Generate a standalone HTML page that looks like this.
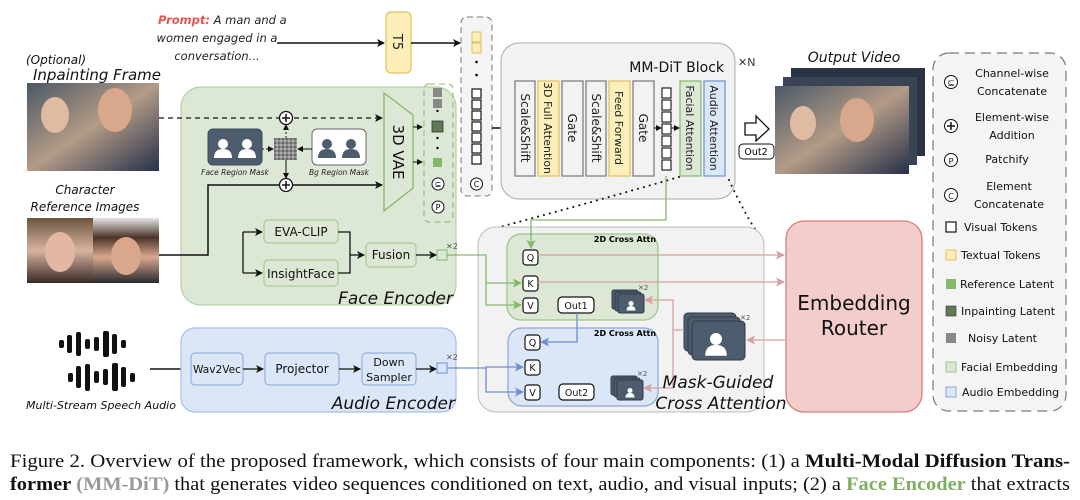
<!DOCTYPE html>
<html><head><meta charset="utf-8"><style>
html,body{margin:0;padding:0;background:#fff;width:1080px;height:500px;overflow:hidden}
svg{display:block}
.h{font-family:"DejaVu Sans","Liberation Sans",sans-serif}
.cap{font-family:"Liberation Serif",serif;font-size:18.5px;fill:#111}
</style></head><body>
<svg width="1080" height="500" viewBox="0 0 1080 500" xmlns="http://www.w3.org/2000/svg">
<defs>
<marker id="a" markerWidth="8" markerHeight="8" refX="7" refY="4" orient="auto" markerUnits="userSpaceOnUse"><path d="M0,0 L8,4 L0,8 L2,4z" fill="#111"/></marker>
<marker id="as" markerWidth="6" markerHeight="6" refX="5" refY="3" orient="auto" markerUnits="userSpaceOnUse"><path d="M0,0 L6,3 L0,6z" fill="#111"/></marker>
<marker id="ag" markerWidth="9" markerHeight="9" refX="8" refY="4.5" orient="auto" markerUnits="userSpaceOnUse"><path d="M0,0 L9,4.5 L0,9 L2,4.5z" fill="#86b86a"/></marker>
<marker id="ab" markerWidth="9" markerHeight="9" refX="8" refY="4.5" orient="auto" markerUnits="userSpaceOnUse"><path d="M0,0 L9,4.5 L0,9 L2,4.5z" fill="#6f8fcf"/></marker>
<marker id="ar" markerWidth="9" markerHeight="9" refX="8" refY="4.5" orient="auto" markerUnits="userSpaceOnUse"><path d="M0,0 L9,4.5 L0,9 L2,4.5z" fill="#d9a0a0"/></marker>
<linearGradient id="p1" x1="0" y1="0" x2="1" y2="1"><stop offset="0" stop-color="#4a5866"/><stop offset=".5" stop-color="#b39b86"/><stop offset="1" stop-color="#26304a"/></linearGradient>
<linearGradient id="p2" x1="0" y1="0" x2="0" y2="1"><stop offset="0" stop-color="#6b5540"/><stop offset=".5" stop-color="#d8b4a0"/><stop offset="1" stop-color="#3a2a24"/></linearGradient>
<linearGradient id="p3" x1="0" y1="0" x2="0" y2="1"><stop offset="0" stop-color="#e6e6e6"/><stop offset=".3" stop-color="#4a3328"/><stop offset=".6" stop-color="#d8a88e"/><stop offset="1" stop-color="#2a2a30"/></linearGradient>
<pattern id="nz" width="4" height="4" patternUnits="userSpaceOnUse"><rect width="4" height="4" fill="#8a8a8a"/><rect width="2" height="2" fill="#b0b0b0"/><rect x="2" y="2" width="2" height="2" fill="#6a6a6a"/></pattern>
<g id="person"><circle cx="0" cy="-5" r="5"/><path d="M-9,9 Q-9,0 0,0 Q9,0 9,9z"/></g>
</defs>

<!-- prompt -->
<text class="h" font-style="italic" font-size="11.5" x="158" y="24"><tspan fill="#e8554e" font-weight="bold">Prompt:</tspan><tspan fill="#222"> A man and a</tspan></text>
<text class="h" font-style="italic" font-size="11.5" x="217" y="42" text-anchor="middle" fill="#222">women engaged in a</text>
<text class="h" font-style="italic" font-size="11.5" x="217" y="60" text-anchor="middle" fill="#222">conversation...</text>
<line x1="277" y1="43" x2="384" y2="43" stroke="#111" stroke-width="1.5" marker-end="url(#a)"/>
<rect x="386" y="12" width="25" height="61" rx="5" fill="#fbeeb8" stroke="#e2c060" stroke-width="1.2"/>
<text class="h" font-size="13" transform="translate(393,42) rotate(90)" text-anchor="middle" fill="#222">T5</text>
<line x1="411" y1="43" x2="460" y2="43" stroke="#111" stroke-width="1.5" marker-end="url(#a)"/>

<!-- token column -->
<rect x="461" y="17" width="31" height="179" rx="6" fill="#f4f4f4" stroke="#777" stroke-dasharray="6,4"/>
<rect x="472" y="32" width="9" height="10" fill="#fbeeb8" stroke="#e2c060"/>
<rect x="472" y="43" width="9" height="10" fill="#fbeeb8" stroke="#e2c060"/>
<circle cx="476.5" cy="62" r="1.3"/><circle cx="476.5" cy="75" r="1.3"/>
<g fill="#fff" stroke="#111" stroke-width="1.2"><rect x="472" y="89" width="9" height="9"/><rect x="472" y="100" width="9" height="9"/><rect x="472" y="111" width="9" height="9"/><rect x="472" y="122" width="9" height="9"/><rect x="472" y="133" width="9" height="9"/><rect x="472" y="144" width="9" height="9"/><rect x="472" y="155" width="9" height="9"/></g>
<circle cx="476.5" cy="184" r="6" fill="#fff" stroke="#111"/><text class="h" font-size="8" x="476.5" y="187" text-anchor="middle">C</text>
<line x1="492" y1="128" x2="514" y2="128" stroke="#111" stroke-width="1.5" marker-end="url(#a)"/>

<!-- left inputs -->
<text class="h" font-style="italic" font-size="12" x="26" y="64" fill="#111">(Optional)</text>
<text class="h" font-style="italic" font-size="15" x="33" y="80" fill="#111">Inpainting Frame</text>
<rect x="27" y="83" width="132" height="88" fill="url(#p1)"/>
<ellipse cx="55" cy="115" rx="14" ry="18" fill="#e0bba4"/><ellipse cx="115" cy="110" rx="17" ry="22" fill="#d9a78c"/>
<text class="h" font-style="italic" font-size="12" x="85" y="194" text-anchor="middle" fill="#111">Character</text>
<text class="h" font-style="italic" font-size="12" x="85" y="211" text-anchor="middle" fill="#111">Reference Images</text>
<rect x="27" y="218" width="66" height="65" fill="url(#p2)"/>
<rect x="93" y="218" width="66" height="65" fill="url(#p3)"/>
<ellipse cx="60" cy="252" rx="15" ry="20" fill="#e2b8a4"/><ellipse cx="126" cy="256" rx="15" ry="19" fill="#d9a78c"/>

<!-- face encoder -->
<rect x="181" y="87" width="275" height="218" rx="20" fill="#dce8d5" stroke="#b3d0a2" stroke-width="1.2"/>
<text class="h" font-style="italic" font-size="17" x="453" y="304" text-anchor="end" fill="#111">Face Encoder</text>
<line x1="159" y1="118" x2="382" y2="118" stroke="#111" stroke-width="1.3" stroke-dasharray="5,4" marker-end="url(#a)"/>
<circle cx="286" cy="118" r="6.5" fill="#fff" stroke="#111" stroke-width="1.3"/><path d="M282,118h8M286,114v8" stroke="#111" stroke-width="1.5"/>
<rect x="208" y="129" width="54" height="36" rx="5" fill="#4d5d6e" stroke="#3d4b5a"/>
<g fill="#fff"><use href="#person" x="223" y="149"/><use href="#person" x="247" y="149"/></g>
<rect x="274" y="138" width="23" height="22" fill="url(#nz)"/>
<rect x="312" y="129" width="54" height="36" rx="5" fill="#fff" stroke="#666"/>
<g fill="#4d5d6e"><use href="#person" x="327" y="149"/><use href="#person" x="351" y="149"/></g>
<line x1="262" y1="149" x2="273" y2="149" stroke="#111" stroke-dasharray="2,2" marker-end="url(#as)"/>
<line x1="312" y1="149" x2="298" y2="149" stroke="#111" marker-end="url(#as)"/>
<line x1="286" y1="138" x2="286" y2="125" stroke="#111" stroke-dasharray="2,2" marker-end="url(#as)"/>
<line x1="286" y1="160" x2="286" y2="178" stroke="#111" marker-end="url(#as)"/>
<text class="h" font-style="italic" font-size="7.5" x="235" y="175" text-anchor="middle" fill="#222">Face Region Mask</text>
<text class="h" font-style="italic" font-size="7.5" x="339" y="175" text-anchor="middle" fill="#222">Bg Region Mask</text>
<polyline points="159,255 208,255 208,185 382,185" fill="none" stroke="#111" stroke-width="1.5" marker-end="url(#a)"/>
<circle cx="286" cy="185" r="6.5" fill="#fff" stroke="#111" stroke-width="1.3"/><path d="M282,185h8M286,181v8" stroke="#111" stroke-width="1.5"/>
<polygon points="384,93 413,115 413,188 384,211" fill="#dce8d5" stroke="#86b86a" stroke-width="1.3"/>
<text class="h" font-size="15" transform="translate(393,152) rotate(90)" text-anchor="middle" fill="#111">3D VAE</text>
<line x1="413" y1="127" x2="422" y2="127" stroke="#111" marker-end="url(#as)"/>
<line x1="413" y1="162" x2="422" y2="162" stroke="#111" marker-end="url(#as)"/>
<rect x="424" y="84" width="29" height="138" rx="5" fill="none" stroke="#86b86a" stroke-dasharray="6,4"/>
<rect x="433" y="88" width="9" height="9" fill="#888"/><rect x="433" y="99" width="9" height="9" fill="#888"/>
<circle cx="437.5" cy="111" r="1.2"/><rect x="432" y="121" width="11" height="11" fill="#5f7a55" stroke="#333" stroke-width=".8"/>
<circle cx="437.5" cy="138" r="1.2"/><circle cx="437.5" cy="148" r="1.2"/>
<rect x="433" y="158" width="9" height="9" fill="#86b86a"/>
<circle cx="438" cy="184" r="6" fill="#fff" stroke="#111"/><text class="h" font-size="8" x="438" y="187" text-anchor="middle">⊆</text>
<circle cx="438" cy="207" r="6" fill="#fff" stroke="#111"/><text class="h" font-size="8" x="438" y="210" text-anchor="middle">P</text>
<polyline points="243,232 243,273" fill="none" stroke="#111" stroke-width="1.3"/>
<line x1="243" y1="232" x2="262" y2="232" stroke="#111" stroke-width="1.3" marker-end="url(#a)"/>
<line x1="243" y1="273" x2="262" y2="273" stroke="#111" stroke-width="1.3" marker-end="url(#a)"/>
<rect x="264" y="220" width="74" height="23" rx="4" fill="#dce8d5" stroke="#9cc485"/>
<text class="h" font-size="12" x="301" y="236" text-anchor="middle" fill="#111">EVA-CLIP</text>
<rect x="264" y="260" width="74" height="26" rx="4" fill="#dce8d5" stroke="#9cc485"/>
<text class="h" font-size="12" x="301" y="278" text-anchor="middle" fill="#111">InsightFace</text>
<polyline points="338,232 350,232 350,273 338,273" fill="none" stroke="#111" stroke-width="1.3"/>
<line x1="350" y1="255" x2="364" y2="255" stroke="#111" stroke-width="1.3" marker-end="url(#a)"/>
<rect x="366" y="243" width="50" height="24" rx="4" fill="#dce8d5" stroke="#9cc485"/>
<text class="h" font-size="12" x="391" y="259" text-anchor="middle" fill="#111">Fusion</text>
<line x1="416" y1="255" x2="436" y2="255" stroke="#111" stroke-width="1.3" marker-end="url(#a)"/>
<rect x="437" y="250" width="10" height="10" fill="#dce8d5" stroke="#86b86a"/>
<text class="h" font-size="8" x="446" y="249" fill="#555">✕2</text>

<!-- audio -->
<g fill="#111">
<rect x="59" y="340" width="5" height="8" rx="2"/><rect x="67" y="335" width="5" height="18" rx="2"/><rect x="76" y="332" width="5" height="24" rx="2"/><rect x="85" y="339" width="5" height="10" rx="2"/><rect x="94" y="337" width="5" height="14" rx="2"/><rect x="103" y="331" width="6" height="26" rx="2"/><rect x="112" y="334" width="5" height="20" rx="2"/><rect x="121" y="340" width="5" height="8" rx="2"/>
<rect x="68" y="373" width="5" height="9" rx="2"/><rect x="76" y="366" width="5" height="22" rx="2"/><rect x="85" y="364" width="5" height="27" rx="2"/><rect x="94" y="371" width="5" height="12" rx="2"/><rect x="103" y="369" width="5" height="16" rx="2"/><rect x="112" y="363" width="6" height="28" rx="2"/><rect x="121" y="367" width="5" height="20" rx="2"/><rect x="130" y="373" width="5" height="9" rx="2"/>
</g>
<text class="h" font-style="italic" font-size="11" x="26" y="409" fill="#111" textLength="150" lengthAdjust="spacingAndGlyphs">Multi-Stream Speech Audio</text>
<line x1="150" y1="369" x2="190" y2="369" stroke="#111" stroke-width="1.5" marker-end="url(#a)"/>
<rect x="181" y="328" width="275" height="84" rx="14" fill="#dbe6f7" stroke="#a8bfe6" stroke-width="1.2"/>
<text class="h" font-style="italic" font-size="17" x="455" y="409" text-anchor="end" fill="#111">Audio Encoder</text>
<rect x="191" y="353" width="52" height="32" rx="4" fill="#dbe6f7" stroke="#8aa6d8"/>
<text class="h" font-size="11" x="217" y="373" text-anchor="middle" fill="#111" textLength="48" lengthAdjust="spacingAndGlyphs">Wav2Vec</text>
<line x1="243" y1="369" x2="263" y2="369" stroke="#111" stroke-width="1.3" marker-end="url(#a)"/>
<rect x="265" y="353" width="74" height="32" rx="4" fill="#dbe6f7" stroke="#8aa6d8"/>
<text class="h" font-size="12" x="302" y="373" text-anchor="middle" fill="#111">Projector</text>
<line x1="339" y1="369" x2="360" y2="369" stroke="#111" stroke-width="1.3" marker-end="url(#a)"/>
<rect x="362" y="353" width="54" height="32" rx="4" fill="#dbe6f7" stroke="#8aa6d8"/>
<text class="h" font-size="11" x="389" y="366" text-anchor="middle" fill="#111">Down</text>
<text class="h" font-size="11" x="389" y="381" text-anchor="middle" fill="#111">Sampler</text>
<line x1="416" y1="369" x2="436" y2="369" stroke="#111" stroke-width="1.3" marker-end="url(#a)"/>
<rect x="437" y="363" width="10" height="10" fill="#dbe6f7" stroke="#6f8fcf"/>
<text class="h" font-size="8" x="446" y="360" fill="#555">✕2</text>

<!-- MM-DiT block -->
<rect x="501" y="43" width="234" height="156" rx="18" fill="#f2f2f2" stroke="#aaa"/>
<text class="h" font-size="14" x="724" y="72" text-anchor="end" fill="#111">MM-DiT Block</text>
<text class="h" font-size="11" x="738" y="66" fill="#333">✕N</text>
<g stroke-width="1.2">
<rect x="515" y="81" width="20" height="95" fill="#f2f2f2" stroke="#777"/>
<rect x="538" y="81" width="21" height="95" fill="#fbeeb8" stroke="#e2c060"/>
<rect x="562" y="81" width="21" height="95" fill="#f2f2f2" stroke="#777"/>
<rect x="586" y="81" width="20" height="95" fill="#f2f2f2" stroke="#777"/>
<rect x="609" y="81" width="21" height="95" fill="#fbeeb8" stroke="#e2c060"/>
<rect x="633" y="81" width="21" height="95" fill="#f2f2f2" stroke="#777"/>
<rect x="680" y="81" width="21" height="95" fill="#dce8d5" stroke="#86b86a"/>
<rect x="704" y="81" width="21" height="95" fill="#dbe6f7" stroke="#6f8fcf"/>
</g>
<g class="h" font-size="12" fill="#222" text-anchor="middle">
<text transform="translate(521,128) rotate(90)">Scale&amp;Shift</text>
<text transform="translate(544,128) rotate(90)" font-size="11">3D Full Attention</text>
<text transform="translate(568,128) rotate(90)">Gate</text>
<text transform="translate(592,128) rotate(90)">Scale&amp;Shift</text>
<text transform="translate(615,128) rotate(90)" font-size="11">Feed Forward</text>
<text transform="translate(639,128) rotate(90)">Gate</text>
<text transform="translate(686,128) rotate(90)" font-size="11">Facial Attention</text>
<text transform="translate(710,128) rotate(90)" font-size="11">Audio Attention</text>
</g>
<line x1="654" y1="128" x2="661" y2="128" stroke="#111" marker-end="url(#as)"/>
<g fill="#fff" stroke="#111" stroke-width="1.1"><rect x="662" y="88" width="9" height="10"/><rect x="662" y="100" width="9" height="10"/><rect x="662" y="112" width="9" height="10"/><rect x="662" y="124" width="9" height="10"/><rect x="662" y="136" width="9" height="10"/><rect x="662" y="148" width="9" height="10"/><rect x="662" y="160" width="9" height="10"/></g>
<line x1="671" y1="128" x2="679" y2="128" stroke="#111" marker-end="url(#as)"/>

<!-- output -->
<path d="M745,123 H756 V116 L769,129 L756,141 V135 H745z" fill="#fff" stroke="#111" stroke-width="1.3"/>
<rect x="739" y="144" width="35" height="15" rx="4" fill="#fff" stroke="#111"/>
<text class="h" font-size="9.5" x="756" y="155" text-anchor="middle">Out2</text>
<text class="h" font-style="italic" font-size="14" x="854" y="62" text-anchor="middle" fill="#111">Output Video</text>
<rect x="791" y="68" width="134" height="88" fill="#2a3444"/>
<rect x="783" y="77" width="134" height="88" fill="#3a4454"/>
<rect x="775" y="86" width="134" height="88" fill="url(#p1)"/>
<ellipse cx="803" cy="123" rx="13" ry="17" fill="#e0bba4"/><ellipse cx="857" cy="120" rx="17" ry="22" fill="#d9a78c"/>

<!-- legend -->
<rect x="933" y="53" width="133" height="358" rx="16" fill="#f4f4f4" stroke="#777" stroke-dasharray="10,6" stroke-width="1.2"/>
<g class="h" font-size="11" fill="#111" text-anchor="middle">
<circle cx="951" cy="82" r="6.5" fill="#fff" stroke="#111"/><text x="951" y="86" font-size="9">⊆</text>
<text x="1012" y="77">Channel-wise</text><text x="1012" y="95">Concatenate</text>
<circle cx="951" cy="126" r="6.5" fill="#fff" stroke="#111"/><path d="M947,126h8M951,122v8" stroke="#111" stroke-width="1.5"/>
<text x="1012" y="121">Element-wise</text><text x="1012" y="139">Addition</text>
<circle cx="951" cy="160" r="6.5" fill="#fff" stroke="#111"/><text x="951" y="164" font-size="8">P</text>
<text x="1007" y="163">Patchify</text>
<circle cx="951" cy="195" r="6.5" fill="#fff" stroke="#111"/><text x="951" y="199" font-size="8">C</text>
<text x="1009" y="190">Element</text><text x="1009" y="208">Concatenate</text>
</g>
<g class="h" font-size="11" fill="#111">
<rect x="946" y="222" width="10" height="10" fill="#fff" stroke="#111" stroke-width="1.2"/><text x="964" y="231">Visual Tokens</text>
<rect x="946" y="250" width="10" height="10" fill="#fbeeb8" stroke="#e2c060"/><text x="961" y="259">Textual Tokens</text>
<rect x="946" y="279" width="10" height="10" fill="#86b86a"/><text x="960" y="288">Reference Latent</text>
<rect x="946" y="306" width="10" height="10" fill="#5f7a55" stroke="#333" stroke-width=".6"/><text x="961" y="315">Inpainting Latent</text>
<rect x="946" y="333" width="10" height="10" fill="#888"/><text x="968" y="342">Noisy Latent</text>
<rect x="946" y="362" width="10" height="10" fill="#dce8d5" stroke="#9cc485"/><text x="961" y="371">Facial Embedding</text>
<rect x="946" y="387" width="10" height="10" fill="#dbe6f7" stroke="#8aa6d8"/><text x="962" y="396">Audio Embedding</text>
</g>

<!-- mask guided cross attention -->
<path d="M679,177 Q600,200 496,228" fill="none" stroke="#111" stroke-width="2" stroke-dasharray="0.1,6" stroke-linecap="round"/>
<path d="M729,180 Q745,215 762,240" fill="none" stroke="#111" stroke-width="2" stroke-dasharray="0.1,6" stroke-linecap="round"/>
<rect x="478" y="227" width="286" height="185" rx="18" fill="#f2f2f2" stroke="#bbb"/>
<rect x="507" y="234" width="151" height="86" rx="14" fill="#dce8d5" stroke="#9cc485" stroke-width="1.2"/>
<rect x="508" y="328" width="150" height="78" rx="14" fill="#dbe6f7" stroke="#8aa6d8" stroke-width="1.2"/>
<text class="h" font-size="8" font-weight="bold" x="625" y="242" text-anchor="middle">2D Cross Attn</text>
<text class="h" font-size="8" font-weight="bold" x="625" y="336" text-anchor="middle">2D Cross Attn</text>
<g fill="#fff" stroke="#111" stroke-width="1.2">
<rect x="523" y="250" width="15" height="15" rx="3"/><rect x="523" y="276" width="15" height="15" rx="3"/><rect x="523" y="298" width="15" height="15" rx="3"/>
<rect x="525" y="335" width="15" height="15" rx="3"/><rect x="525" y="360" width="15" height="15" rx="3"/><rect x="525" y="385" width="15" height="15" rx="3"/>
<rect x="558" y="297" width="36" height="16" rx="4"/><rect x="559" y="384" width="35" height="16" rx="4"/>
</g>
<g class="h" font-size="9.5" text-anchor="middle" fill="#111">
<text x="530.5" y="261">Q</text><text x="530.5" y="287">K</text><text x="530.5" y="309">V</text>
<text x="532.5" y="346">Q</text><text x="532.5" y="371">K</text><text x="532.5" y="396">V</text>
<text x="576" y="309">Out1</text><text x="576.5" y="396">Out2</text>
</g>
<!-- stacks -->
<g stroke="#2f3b48" stroke-width="1">
<rect x="612" y="290" width="26" height="19" rx="2" fill="#4d5d6e"/><rect x="615" y="292" width="26" height="19" rx="2" fill="#4d5d6e"/><rect x="618" y="294" width="26" height="19" rx="2" fill="#4d5d6e"/>
<rect x="611" y="376" width="26" height="19" rx="2" fill="#4d5d6e"/><rect x="614" y="378" width="26" height="19" rx="2" fill="#4d5d6e"/><rect x="617" y="380" width="26" height="20" rx="2" fill="#4d5d6e"/>
<rect x="684" y="313" width="52" height="38" rx="4" fill="#4d5d6e"/><rect x="688" y="317" width="52" height="38" rx="4" fill="#4d5d6e"/><rect x="692" y="321" width="53" height="39" rx="4" fill="#4d5d6e"/>
</g>
<g fill="#fff"><use href="#person" transform="translate(631,306) scale(.5)"/><use href="#person" transform="translate(630,393) scale(.5)"/><use href="#person" transform="translate(716,345) scale(1.2)"/></g>
<text class="h" font-size="7" x="638" y="290" fill="#555">✕2</text>
<text class="h" font-size="7" x="637" y="376" fill="#555">✕2</text>
<text class="h" font-size="7" x="740" y="320" fill="#555">✕2</text>

<!-- connectors -->
<polyline points="666,176 666,220 531,220 531,248" fill="none" stroke="#86b86a" stroke-width="1.3" marker-end="url(#ag)"/>
<polyline points="447,255 486,255 486,283 521,283" fill="none" stroke="#86b86a" stroke-width="1.3" marker-end="url(#ag)"/>
<polyline points="486,283 486,305 521,305" fill="none" stroke="#86b86a" stroke-width="1.3" marker-end="url(#ag)"/>
<polyline points="447,368 486,368 486,367 523,367" fill="none" stroke="#6f8fcf" stroke-width="1.3" marker-end="url(#ab)"/>
<polyline points="486,368 486,392 523,392" fill="none" stroke="#6f8fcf" stroke-width="1.3" marker-end="url(#ab)"/>
<polyline points="577,313 577,342 541,342" fill="none" stroke="#6f8fcf" stroke-width="1.3" marker-end="url(#ab)"/>
<line x1="538" y1="255" x2="784" y2="255" stroke="#d9a0a0" stroke-width="1.3" marker-end="url(#ar)"/>
<line x1="538" y1="282" x2="784" y2="282" stroke="#d9a0a0" stroke-width="1.3" marker-end="url(#ar)"/>
<line x1="785" y1="340" x2="747" y2="340" stroke="#d9a0a0" stroke-width="1.3" marker-end="url(#ar)"/>
<polyline points="684,330 673,330 673,300 645,300" fill="none" stroke="#d9a0a0" stroke-width="1.3" marker-end="url(#ar)"/>
<polyline points="673,330 673,388 644,388" fill="none" stroke="#d9a0a0" stroke-width="1.3" marker-end="url(#ar)"/>

<text class="h" font-style="italic" font-size="17" x="718" y="388" text-anchor="middle" fill="#111">Mask-Guided</text>
<text class="h" font-style="italic" font-size="17" x="721" y="409" text-anchor="middle" fill="#111">Cross Attention</text>

<!-- router -->
<rect x="786" y="221" width="136" height="191" rx="18" fill="#f2cdcc" stroke="#d77f7c" stroke-width="1.3"/>
<text class="h" font-size="20" x="854" y="310" text-anchor="middle" fill="#111">Embedding</text>
<text class="h" font-size="20" x="854" y="335" text-anchor="middle" fill="#111">Router</text>

<!-- caption -->
<text class="cap" x="10" y="467" textLength="1060" lengthAdjust="spacingAndGlyphs">Figure 2.  Overview of the proposed framework, which consists of four main components: (1) a <tspan font-weight="bold">Multi-Modal Diffusion Trans-</tspan></text>
<text class="cap" x="10" y="490" textLength="1060" lengthAdjust="spacingAndGlyphs"><tspan font-weight="bold">former</tspan> <tspan font-weight="bold" fill="#999">(MM-DiT)</tspan> that generates video sequences conditioned on text, audio, and visual inputs; (2) a <tspan font-weight="bold" fill="#7fae63">Face Encoder</tspan> that extracts</text>
</svg>
</body></html>
